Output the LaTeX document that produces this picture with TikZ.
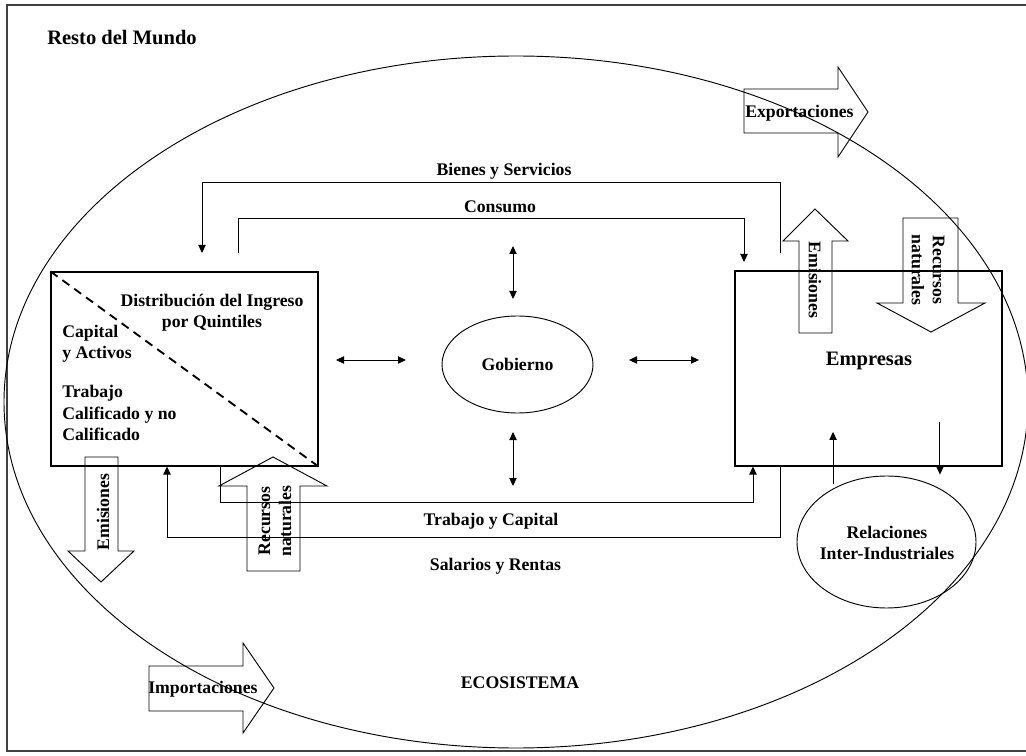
\documentclass[tikz,border=0pt]{standalone}
\usepackage{fontspec}
\setmainfont{Liberation Serif}
\usetikzlibrary{shapes.geometric,arrows.meta}
\begin{document}
\begin{tikzpicture}[x=0.75pt,y=-0.75pt,
  every node/.style={font=\bfseries\fontsize{13.3}{15.8}\selectfont, inner sep=0pt},
  big/.style={font=\bfseries\fontsize{15.4}{18}\selectfont},
  flow/.style={line width=0.7pt},
  tip/.style={-{Triangle[length=6pt,width=5.5pt]}},
  both/.style={{Triangle[length=6pt,width=5.5pt]}-{Triangle[length=6pt,width=5.5pt]}},
  blockarrow/.style={line width=0.7pt},
  box/.style={draw, rectangle, line width=0.8pt},
  oval/.style={draw, ellipse, line width=0.7pt},
]
\useasboundingbox (0,0) rectangle (1026,756);
% frame and ecosystem
\draw[line width=1pt, black!75] (1026,5) -- (7,5) -- (7,751) -- (1026,751);
\draw[line width=0.7pt] (516,402) ellipse [x radius=512, y radius=346];
\node[big, anchor=west] (resto) at (47,38) {Resto del Mundo};
\node (eco) at (520,683) {ECOSISTEMA};

% main nodes
\node[box, minimum width=200.25pt, minimum height=145.5pt] (hh) at (184.5,369) {};
\node[box, minimum width=200.25pt, minimum height=146.25pt] (emp) at (868.5,368.5) {};
\node[oval, minimum width=113.25pt, minimum height=72.75pt] (gob) at (517.5,364.5) {Gobierno};
\node[oval, minimum width=134.25pt, minimum height=99pt] (rel) at (886.5,542) {};
\node[align=center] (reltext) at (887,542.5) {Relaciones\\Inter-Industriales};
\node[big] (emptext) at (869,361) {Empresas};

% household box contents
\draw[line width=1.4pt, dash pattern=on 6.5pt off 4.5pt] (hh.north west) -- (hh.south east);
\node[align=center] (hhtitle) at (212,313) {Distribución del Ingreso\\por Quintiles};
\node[anchor=west, align=left] (cap) at (62,344) {Capital\\y Activos};
\node[anchor=west, align=left] (trab) at (62,413) {Trabajo\\Calificado y no\\Calificado};

% flows on top
\coordinate (bysA) at (780,253);
\coordinate (bysB) at (202,253);
\coordinate (consA) at (238,253);
\coordinate (consB) at (744,262);
\draw[flow,tip] (bysA) -- (780,182) -- (202,182) -- (bysB);
\draw[flow,tip] (consA) -- (238,218) -- (744,218) -- (consB);
\node (bys) at (504,171) {Bienes y Servicios};
\node (cons) at (500,207) {Consumo};

% flows at the bottom
\draw[flow,tip] (220,0 |- hh.south) -- (220,502) -- (753,502) -- (753,0 |- emp.south);
\draw[flow,tip] (780,0 |- emp.south) -- (780,537) -- (167,537) -- (167,0 |- hh.south);
\node (tyc) at (491,521) {Trabajo y Capital};
\node (syr) at (495.5,566) {Salarios y Rentas};

% government exchanges
\coordinate (gl1) at (336,360); \coordinate (gl2) at (406,360);
\coordinate (gr1) at (629,360); \coordinate (gr2) at (699,360);
\coordinate (gt1) at (513,246); \coordinate (gt2) at (513,299);
\coordinate (gb1) at (513,432); \coordinate (gb2) at (513,486);
\draw[flow,both] (gl1) -- (gl2);
\draw[flow,both] (gr1) -- (gr2);
\draw[flow,both] (gt1) -- (gt2);
\draw[flow,both] (gb1) -- (gb2);

% inter-industrial relations
\draw[flow,tip] ([yshift=3.5pt]rel.135) -- ++(0,-52);
\draw[flow,tip] ([yshift=50.25pt]rel.45) -- ([yshift=10.5pt]rel.45);

% block arrows
\draw[blockarrow] (744,89) -- (838,89) -- (838,67) -- (868,112) -- (838,157) -- (838,133) -- (744,133) -- cycle;
\node[anchor=west] (exptext) at (745,113) {Exportaciones};
\draw[blockarrow] (149,666) -- (243,666) -- (243,643) -- (274,688) -- (243,733) -- (243,711) -- (149,711) -- cycle;
\node[anchor=west] (imptext) at (148,689) {Importaciones};
\draw[blockarrow] (799,333) -- (799,241) -- (783,241) -- (815,209) -- (848,241) -- (832,241) -- (832,333) -- cycle;
\node[rotate=-90] (emitR) at (815,280) {Emisiones};
\draw[blockarrow] (903,218) -- (958,218) -- (958,303) -- (985,303) -- (931,332) -- (877,303) -- (903,303) -- cycle;
\node[rotate=-90, align=center] (recR) at (928,270) {Recursos\\naturales};
\draw[blockarrow] (85,457) -- (118,457) -- (118,551) -- (134,551) -- (101,582) -- (68,551) -- (85,551) -- cycle;
\node[rotate=90] (emitL) at (103,512) {Emisiones};
\draw[blockarrow] (247,571) -- (247,486) -- (219,486) -- (273,457) -- (327,486) -- (300,486) -- (300,571) -- cycle;
\node[rotate=90, align=center] (recL) at (275,521) {Recursos\\naturales};
\end{tikzpicture}
\end{document}
